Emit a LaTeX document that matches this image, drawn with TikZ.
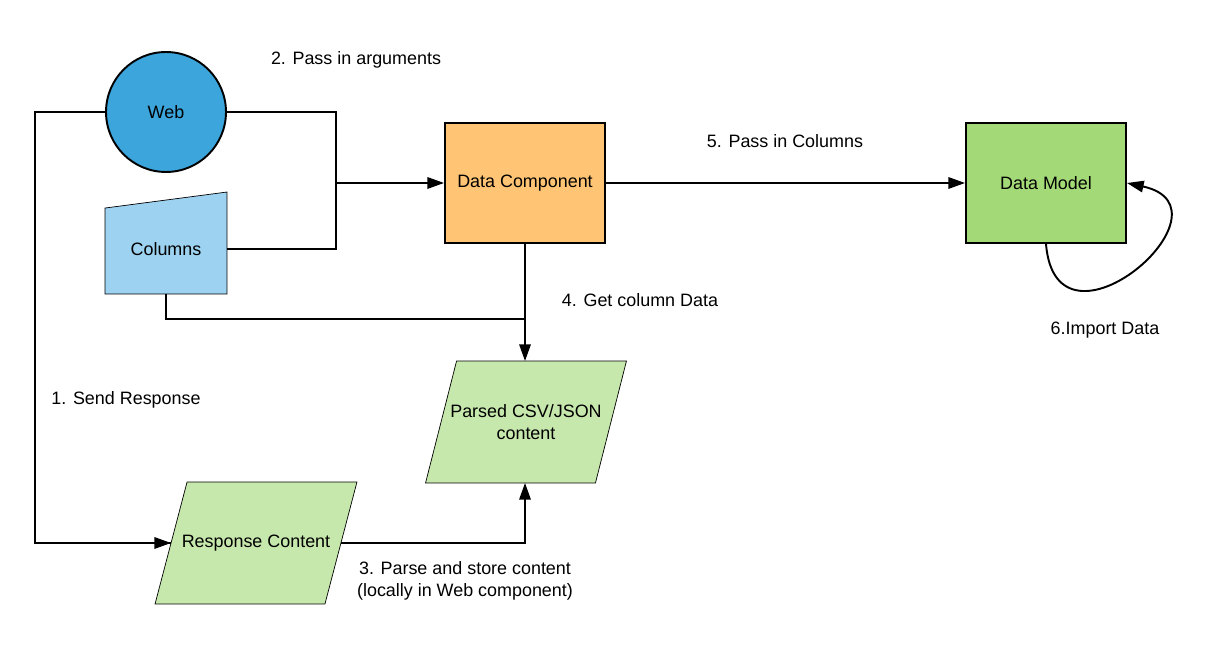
\documentclass[tikz,border=0pt]{standalone}
\usepackage{fontspec}
\setmainfont{Liberation Sans}
\usetikzlibrary{arrows.meta,backgrounds}
\definecolor{webblue}{RGB}{59,165,220}
\definecolor{colblue}{RGB}{157,210,241}
\definecolor{dcorange}{RGB}{255,197,116}
\definecolor{dmgreen}{RGB}{163,217,119}
\definecolor{iogreen}{RGB}{199,232,172}

\begin{document}
\begin{tikzpicture}[x=0.02cm,y=-0.02cm,
  font=\fontsize{10.2}{12.5}\selectfont,
  line width=1.1pt,
  >={Triangle[length=9.5pt,width=6.5pt]},
  box/.style={draw,minimum width=3.2cm,minimum height=2.4cm,inner sep=0pt},
  iobox/.style={minimum width=3.36cm,minimum height=2.4cm,inner sep=0pt,align=center},
  slant/.style={draw,fill=iogreen},
  lbl/.style={align=center}]
  \useasboundingbox (0,0) rectangle (1223,661);
  \node[draw,circle,fill=webblue,minimum size=2.4cm,inner sep=0pt] (web) at (166,112) {Web};
  \node[minimum width=2.4cm,minimum height=1.76cm,inner sep=0pt] (columns) at (166,249) {Columns};
  \node[box,fill=dcorange] (dcomp) at (525,183) {Data Component};
  \node[box,fill=dmgreen] (dmodel) at (1046,183) {Data Model};
  \node[iobox] (parsed) at (526,422) {Parsed CSV/JSON\\content};
  \node[iobox] (resp) at (256,543) {Response Content};
  \begin{scope}[on background layer]
    \draw[fill=colblue] (columns.south west) -- (columns.south east)
      -- ([yshift=0.24cm]columns.north east) -- ([yshift=-0.08cm]columns.north west) -- cycle;
    \draw[slant] ([xshift=-0.31cm]parsed.south west) -- ([xshift=-0.31cm]parsed.south east)
      -- ([xshift=0.31cm]parsed.north east) -- ([xshift=0.31cm]parsed.north west) -- cycle;
    \draw[slant] ([xshift=-0.32cm]resp.south west) -- ([xshift=-0.32cm]resp.south east)
      -- ([xshift=0.32cm]resp.north east) -- ([xshift=0.32cm]resp.north west) -- cycle;
  \end{scope}

  \coordinate (junc) at (336,183);
  \coordinate (merge) at (525,319);
  \draw (web.west) -- ++(-70,0) coordinate (left) |- (resp.west);
  \draw[->] (left |- resp.west) -- (resp.west);
  \draw (web.east) -| (junc) |- (columns.east);
  \draw[->] (junc) -- (dcomp.west);
  \draw[->] (dcomp.east) -- (dmodel.west);
  \draw (columns.south) |- (merge);
  \draw[->] (dcomp.south) -- (dcomp.south |- parsed.north);
  \draw[->] (resp.east) -| (dcomp.south |- parsed.south);
  \draw[->] (dmodel.south) .. controls +(10,125) and +(115,25) .. (dmodel.east);

  \node[lbl] (send) at (126,400) {1. Send Response};
  \node[lbl] (pass) at (356,60) {2. Pass in arguments};
  \node[lbl] (store) at (465,581) {3. Parse and store content\\(locally in Web component)};
  \node[lbl] (get) at (640,300) {4. Get column Data};
  \node[lbl] (cols) at (785,141) {5. Pass in Columns};
  \node[lbl] (import) at (1105,330) {6.Import Data};
\end{tikzpicture}
\end{document}
